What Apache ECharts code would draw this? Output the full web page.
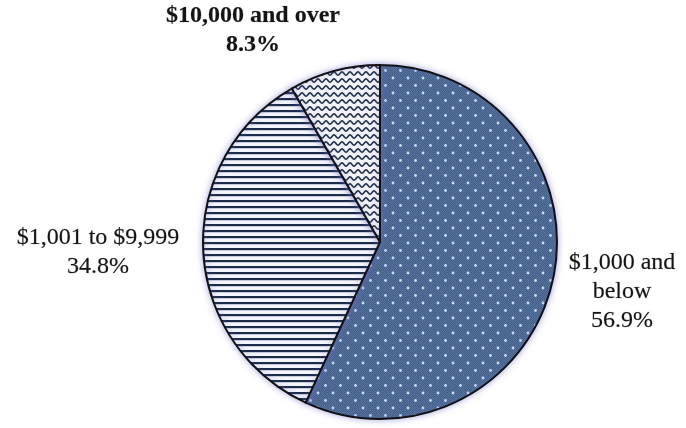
<!DOCTYPE html>
<html>
<head>
<meta charset="utf-8">
<script src="https://cdn.jsdelivr.net/npm/echarts@6/dist/echarts.min.js"></script>
<style>
html,body{margin:0;padding:0;background:#fff;}
#chart{width:686px;height:428px;}
</style>
</head>
<body>
<div id="chart"></div>
<script>
// ---- data ----
var categories = ['$1,000 and below', '$1,001 to $9,999', '$10,000 and over'];
var labelLines = ['$1,000 and\nbelow', '$1,001 to $9,999', '$10,000 and over'];
var values = [56.9, 34.8, 8.3];

// ---- patterns ----
function dotPattern() {
  var c = document.createElement('canvas');
  c.width = 15; c.height = 15;
  var g = c.getContext('2d');
  g.fillStyle = '#55739a';
  g.fillRect(0, 0, 15, 15);
  g.fillStyle = '#44608a';
  for (var y = 0; y < 15; y++) for (var x = 0; x < 15; x++) if ((x + y) % 2 === 0) g.fillRect(x, y, 1, 1);
  g.fillStyle = '#c8dcf6';
  [[3, 3], [10.5, 10.5]].forEach(function (p) {
    g.beginPath(); g.arc(p[0], p[1], 1.4, 0, Math.PI * 2); g.fill();
  });
  return c;
}
function stripePattern() {
  var c = document.createElement('canvas');
  c.width = 6; c.height = 6;
  var g = c.getContext('2d');
  g.fillStyle = '#f3f4fc';
  g.fillRect(0, 0, 6, 6);
  g.fillStyle = '#1c2b4a';
  g.fillRect(0, 2, 6, 2.2);
  return c;
}
function wavePattern() {
  var c = document.createElement('canvas');
  c.width = 8; c.height = 7;
  var g = c.getContext('2d');
  g.fillStyle = '#f4f5fb';
  g.fillRect(0, 0, 8, 7);
  g.strokeStyle = '#24324f';
  g.lineWidth = 1.6;
  g.beginPath();
  for (var x = -1; x <= 9; x += 0.5) {
    var y = 3.5 + 1.6 * Math.sin(x / 8 * Math.PI * 2);
    if (x === -1) g.moveTo(x, y); else g.lineTo(x, y);
  }
  g.stroke();
  return c;
}
var patterns = [dotPattern(), stripePattern(), wavePattern()];

// label anchor positions (text blocks, not marks)
var labelPos = [[622, 292], [98, 252], [253, 30]];

var chart = echarts.init(document.getElementById('chart'), null, {renderer: 'canvas'});
chart.setOption({
  animation: false,
  backgroundColor: '#ffffff',
  series: [{
    type: 'pie',
    center: [380, 242],
    radius: 177,
    startAngle: 90,
    clockwise: true,
    data: categories.map(function (n, i) {
      return {
        name: n,
        value: values[i],
        itemStyle: {color: {image: patterns[i], repeat: 'repeat'}},
        label: {fontWeight: i === 2 ? 'bold' : 'normal'}
      };
    }),
    itemStyle: {
      borderColor: '#111',
      borderWidth: 2,
      shadowBlur: 6,
      shadowColor: 'rgba(110,110,200,0.55)'
    },
    label: {
      show: true,
      position: 'outside',
      overflow: 'none',
      width: 300,
      fontFamily: '"Liberation Serif", "DejaVu Serif", serif',
      fontSize: 24,
      lineHeight: 29,
      color: '#141414',
      align: 'center',
      textBorderColor: 'rgba(60,60,60,0.35)',
      textBorderWidth: 0.6,
      formatter: function (p) {
        return labelLines[p.dataIndex] + '\n' + p.value.toFixed(1) + '%';
      }
    },
    labelLine: {show: false},
    labelLayout: function (p) {
      var pos = labelPos[p.dataIndex];
      return {x: pos[0], y: pos[1], align: 'center', verticalAlign: 'middle'};
    },
    emphasis: {disabled: true}
  }]
});
</script>
</body>
</html>
